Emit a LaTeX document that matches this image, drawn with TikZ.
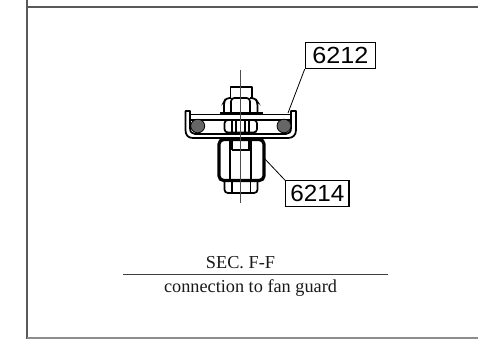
\documentclass[tikz,border=0pt]{standalone}
\usepackage{fontspec}
\setmainfont{Liberation Serif}
\newfontfamily\tagfont{Liberation Sans}
\tikzset{
  x=0.75pt,y=-0.75pt,
  obj/.style={draw=black,line width=1.3pt,line join=round},
  lobe/.style={draw=black,line width=1.3pt,rounded corners=2.5pt},
  thin obj/.style={draw=black,line width=0.8pt},
  frame/.style={draw=black!65,line width=0.9pt},
  axis/.style={draw=black!70,line width=0.4pt},
  tagbox/.style={draw=black,line width=0.9pt,fill=white,inner sep=0pt,font=\tagfont\fontsize{17.5}{18}\selectfont},
  leader/.style={draw=black,line width=0.6pt},
  caption/.style={inner sep=0pt,font=\fontsize{13.7}{15}\selectfont,text=black!90},
  hatchfill/.style={draw=black,line width=0.6pt,fill=black!60}
}
\begin{document}
\begin{tikzpicture}
\useasboundingbox (0,0) rectangle (478,339);
\fill[white] (0,0) rectangle (478,339);
\draw[frame] (27,0) -- (27,339);
\draw[frame] (27,7) -- (478,7);
\draw[frame,draw=black!45] (27,338) -- (478,338);
% channel and plate
\draw[obj] (190,111) -- (185.5,111) -- (185.5,130) .. controls (185.5,135) and (188,138) .. (193,138) -- (288,138) .. controls (293,138) and (296,135) .. (296,130) -- (296,111) -- (291,111) -- (291,128) .. controls (291,132) and (289,134) .. (286,134) -- (195,134) .. controls (192,134) and (190,132) .. (190,128) -- cycle;
\draw[obj] (190,114.5) -- (291,114.5);
\draw[obj] (190,120) -- (291,120);
\draw[hatchfill] (197.7,126) ellipse[x radius=7,y radius=6.8];
\draw[hatchfill] (284,126) ellipse[x radius=7,y radius=6.8];
% bolt end
\draw[obj] (230.5,98) -- (230.5,87) -- (252,87) -- (252,98);
% top nut
\draw[lobe] (231,113) -- (231,98) -- (250,98) -- (250,113);
\draw[lobe] (231,98) -- (226,98) -- (224,102) -- (224,113);
\draw[lobe] (250,98) -- (255,98) -- (257.5,102) -- (257.5,113);
\draw[draw=black,fill=black,line width=0.5pt] (220.5,112) rectangle (262,114);
% middle nut
\draw[lobe,fill=white] (224.5,120) rectangle (257,132.5);
\draw[obj] (232,120) -- (232,132.5) (249,120) -- (249,132.5);
\draw[thin obj] (236,120) -- (236,132.5) (245,120) -- (245,132.5);
% big nut
\draw[draw=black,line width=2.4pt,rounded corners=3.5pt,fill=white] (219,139.5) rectangle (264,180.5);
\draw[obj] (230,140) -- (230,180) (251,140) -- (251,180);
\draw[thin obj] (232,150) -- (250,150) (232,140) -- (232,150) (249,140) -- (249,150);
% bottom nut
\draw[lobe] (224.5,182) -- (224.5,193) -- (257.5,193) -- (257.5,182);
\draw[obj] (232,182) -- (232,193) (250.5,182) -- (250.5,193);
% axis
\draw[axis] (240.7,70) -- (240.7,203);
% tags
\node[tagbox,minimum width=52.5pt,minimum height=19.5pt] (t1) at (340.3,55.5) {\scalebox{1.08}[1]{6212}};
\node[tagbox,minimum width=47.5pt,minimum height=19pt] (t2) at (317.3,193.5) {\scalebox{1.04}[1]{6214}};
\coordinate (p1) at (288,113);
\coordinate (p2) at (264,158);
\draw[leader] (p1) -- (t1.south west);
\draw[leader] (p2) -- (t2.north west);
% caption
\node[caption] (c1) at (240.5,263) {SEC. F-F};
\coordinate (la) at (123,274);
\coordinate (lb) at (388,274);
\draw[draw=black!75,line width=0.7pt] (la) -- (lb);
\node[caption] (c2) at (250.5,288) {connection to fan guard};
\end{tikzpicture}
\end{document}
